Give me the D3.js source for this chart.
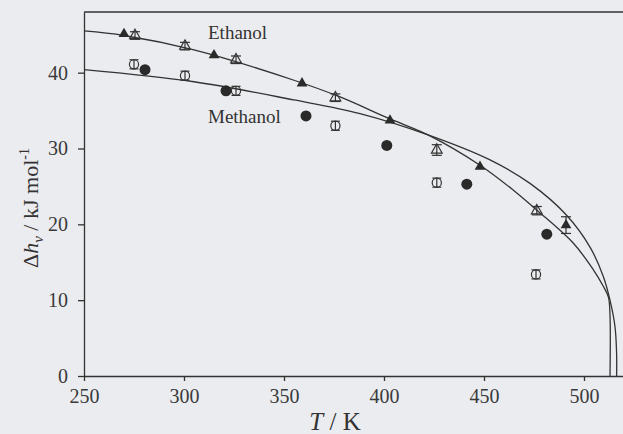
<!DOCTYPE html>
<html>
<head>
<meta charset="utf-8">
<script src="https://cdn.jsdelivr.net/npm/d3@7/dist/d3.min.js"></script>
<style>
  body { margin: 0; background: #ebecef; }
  svg { display: block; background: #ebecef; }
  .axis text { font-family: "Liberation Serif", "Times New Roman", serif; font-size: 20px; fill: #3a3a3a; }
  .axis path, .axis line { stroke: #333; stroke-width: 1.3; }
  .lbl { font-family: "Liberation Serif", "Times New Roman", serif; fill: #333; }
</style>
</head>
<body>
<svg class="vap-chart"></svg>
<script>
// tick values
var xTicks = [250, 300, 350, 400, 450, 500];
var yTicks = [0, 10, 20, 30, 40];

// ethanol, filled triangles
var ethFilledT = [270, 315, 359, 403, 448, 491];
var ethFilledH = [45.1, 42.3, 38.6, 33.7, 27.6, 19.9];
var ethFilledErr = [0, 0, 0, 0, 0, 1.1];

// ethanol, open triangles
var ethOpenT = [275.5, 300.5, 326, 375.7, 426.4, 476.4];
var ethOpenH = [44.9, 43.5, 41.7, 36.7, 29.8, 21.8];
var ethOpenErr = [0.5, 0.5, 0.5, 0.5, 0.7, 0.55];

// methanol, filled circles
var metFilledT = [280.5, 321, 361, 401.4, 441.4, 481.4];
var metFilledH = [40.4, 37.6, 34.3, 30.4, 25.3, 18.7];

// methanol, open circles
var metOpenT = [275, 300.5, 326, 375.7, 426.4, 476];
var metOpenH = [41.1, 39.6, 37.6, 33.0, 25.5, 13.4];
var metOpenErr = [0.6, 0.6, 0.6, 0.6, 0.6, 0.6];

// model curves
var ethCurveT = [250, 270, 305, 355, 378, 403, 422, 448, 464.7, 476.3, 494.7, 504.7, 509.5, 512.2, 513, 513];
var ethCurveH = [45.5, 44.9, 43.0, 39.0, 36.8, 33.9, 31.8, 27.8, 24.5, 21.9, 17.5, 14.0, 11.9, 10.4, 8.0, 0];
var metCurveT = [250, 305, 355, 388, 422, 453, 473, 491.3, 503, 509.7, 513, 515.5, 516.3, 516.3];
var metCurveH = [40.4, 38.8, 36.4, 34.6, 31.8, 28.5, 25.4, 21.2, 17.0, 13.1, 10.0, 6.5, 3.0, 0];

var margin = {top: 12, right: 0, bottom: 58, left: 84};
var width = 540;
var height = 364;

var x = d3.scaleLinear().domain([250, 520]).range([0, width]);
var y = d3.scaleLinear().domain([0, 48]).range([height, 0]);

var svg = d3.select(".vap-chart")
  .attr("width", 623)
  .attr("height", 434);

var chart = svg.append("g")
  .attr("transform", "translate(" + margin.left + "," + margin.top + ")");

function zip(a, b, c) {
  return a.map(function(d, i) { return {t: d, h: b[i], e: c ? c[i] : 0}; });
}

// frame top line
chart.append("line")
  .attr("x1", x(250)).attr("x2", x(520))
  .attr("y1", y(48)).attr("y2", y(48))
  .attr("stroke", "#333").attr("stroke-width", 1.3);

chart.append("g")
  .attr("class", "x axis")
  .attr("transform", "translate(0," + height + ")")
  .call(d3.axisBottom(x).tickValues(xTicks).tickSizeInner(5).tickSizeOuter(0).tickPadding(8).tickFormat(d3.format("d")));

chart.append("g")
  .attr("class", "y axis")
  .call(d3.axisLeft(y).tickValues(yTicks).tickSizeInner(6).tickSizeOuter(0).tickPadding(10));

// curves
var line = d3.line()
  .x(function(d) { return x(d.t); })
  .y(function(d) { return y(d.h); })
  .curve(d3.curveCatmullRom.alpha(0.5));

[zip(ethCurveT, ethCurveH), zip(metCurveT, metCurveH)].forEach(function(c) {
  chart.append("path")
    .datum(c)
    .attr("d", line)
    .attr("fill", "none")
    .attr("stroke", "#333")
    .attr("stroke-width", 1.3);
});

// error bars
function errBars(data, capW) {
  var g = chart.append("g").attr("stroke", "#333").attr("stroke-width", 1.2);
  data.filter(function(d) { return d.e > 0; }).forEach(function(d) {
    var cx = x(d.t);
    g.append("line").attr("x1", cx).attr("x2", cx).attr("y1", y(d.h - d.e)).attr("y2", y(d.h + d.e));
    g.append("line").attr("x1", cx - capW).attr("x2", cx + capW).attr("y1", y(d.h - d.e)).attr("y2", y(d.h - d.e));
    g.append("line").attr("x1", cx - capW).attr("x2", cx + capW).attr("y1", y(d.h + d.e)).attr("y2", y(d.h + d.e));
  });
}

var tri = d3.symbol().type(d3.symbolTriangle).size(50);

var ethOpen = zip(ethOpenT, ethOpenH, ethOpenErr);
errBars(ethOpen, 5);
chart.selectAll(".eth-open")
  .data(ethOpen)
  .enter().append("path")
  .attr("class", "eth-open")
  .attr("d", tri)
  .attr("transform", function(d) { return "translate(" + x(d.t) + "," + y(d.h) + ")"; })
  .attr("fill", "none")
  .attr("stroke", "#333")
  .attr("stroke-width", 1.2);

var ethFilled = zip(ethFilledT, ethFilledH, ethFilledErr);
errBars(ethFilled, 5);
chart.selectAll(".eth-filled")
  .data(ethFilled)
  .enter().append("path")
  .attr("class", "eth-filled")
  .attr("d", tri)
  .attr("transform", function(d) { return "translate(" + x(d.t) + "," + y(d.h) + ")"; })
  .attr("fill", "#2a2a2a");

var metOpen = zip(metOpenT, metOpenH, metOpenErr);
chart.selectAll(".met-open")
  .data(metOpen)
  .enter().append("circle")
  .attr("class", "met-open")
  .attr("cx", function(d) { return x(d.t); })
  .attr("cy", function(d) { return y(d.h); })
  .attr("r", 4.6)
  .attr("fill", "none")
  .attr("stroke", "#333")
  .attr("stroke-width", 1.2);
errBars(metOpen, 4.5);

chart.selectAll(".met-filled")
  .data(zip(metFilledT, metFilledH))
  .enter().append("circle")
  .attr("class", "met-filled")
  .attr("cx", function(d) { return x(d.t); })
  .attr("cy", function(d) { return y(d.h); })
  .attr("r", 5.5)
  .attr("fill", "#2a2a2a");

// series labels
chart.append("text")
  .attr("class", "lbl")
  .attr("x", x(312)).attr("y", y(44.4))
  .style("font-size", "19px")
  .text("Ethanol");

chart.append("text")
  .attr("class", "lbl")
  .attr("x", x(312)).attr("y", y(33.3))
  .style("font-size", "19px")
  .text("Methanol");

// axis titles
var xt = svg.append("text")
  .attr("class", "lbl")
  .attr("x", 335).attr("y", 430)
  .attr("text-anchor", "middle")
  .style("font-size", "25px");
xt.append("tspan").style("font-style", "italic").text("T");
xt.append("tspan").text(" / K");

var yt = svg.append("text")
  .attr("class", "lbl")
  .attr("transform", "translate(38,208) rotate(-90)")
  .attr("text-anchor", "middle")
  .style("font-size", "22px");
yt.append("tspan").text("\u0394");
yt.append("tspan").style("font-style", "italic").text("h");
yt.append("tspan").attr("dy", 5).style("font-size", "15px").style("font-style", "italic").text("v");
yt.append("tspan").attr("dy", -5).text(" / kJ mol");
yt.append("tspan").attr("dy", -9).style("font-size", "14px").text("-1");
</script>
</body>
</html>
